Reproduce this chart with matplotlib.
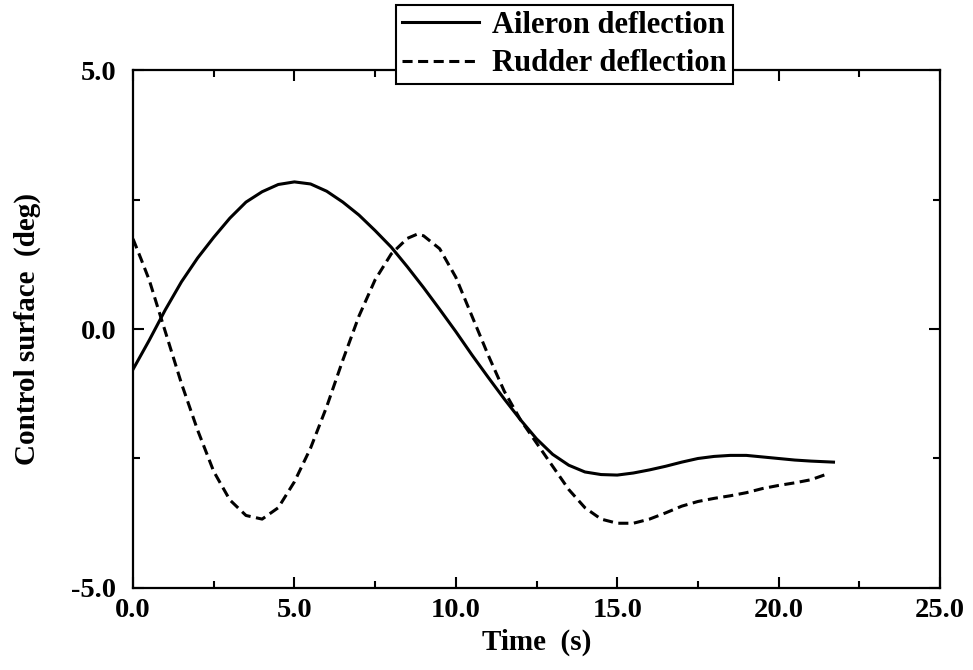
import matplotlib
matplotlib.use("Agg")
import matplotlib.pyplot as plt
from matplotlib.ticker import MultipleLocator, FormatStrFormatter

# values
t_aileron = [0.0, 0.5, 1.0, 1.5, 2.0, 2.5, 3.0, 3.5, 4.0, 4.5, 5.0, 5.5, 6.0, 6.5,
             7.0, 7.5, 8.0, 8.5, 9.0, 9.5, 10.0, 10.5, 11.0, 11.5, 12.0, 12.5,
             13.0, 13.5, 14.0, 14.5, 15.0, 15.5, 16.0, 16.5, 17.0, 17.5, 18.0,
             18.5, 19.0, 19.5, 20.0, 20.5, 21.0, 21.7]
aileron = [-0.78, -0.22, 0.37, 0.91, 1.37, 1.77, 2.14, 2.45, 2.65, 2.79, 2.84,
           2.8, 2.66, 2.45, 2.2, 1.9, 1.58, 1.2, 0.8, 0.38, -0.05, -0.5, -0.93,
           -1.35, -1.75, -2.12, -2.42, -2.63, -2.76, -2.81, -2.82, -2.78, -2.72,
           -2.65, -2.57, -2.5, -2.46, -2.44, -2.44, -2.47, -2.5, -2.53, -2.55, -2.57]

t_rudder = [0.0, 0.25, 0.5, 0.75, 1.0, 1.5, 2.0, 2.5, 3.0, 3.5, 4.0, 4.5, 5.0,
            5.5, 6.0, 6.5, 7.0, 7.5, 8.0, 8.5, 8.8, 9.0, 9.5, 10.0, 10.5, 11.0,
            11.5, 12.0, 12.5, 13.0, 13.5, 14.0, 14.5, 15.0, 15.5, 16.0, 16.5,
            17.0, 17.5, 18.0, 18.5, 19.0, 19.5, 20.0, 20.5, 21.0, 21.5]
rudder = [1.74, 1.35, 0.95, 0.45, -0.05, -1.05, -1.95, -2.75, -3.3, -3.6, -3.67,
          -3.45, -2.95, -2.3, -1.5, -0.6, 0.25, 0.95, 1.45, 1.75, 1.83, 1.8, 1.55,
          1.0, 0.25, -0.5, -1.2, -1.75, -2.2, -2.65, -3.1, -3.45, -3.67, -3.75,
          -3.75, -3.67, -3.55, -3.42, -3.33, -3.27, -3.22, -3.16, -3.08, -3.02,
          -2.97, -2.91, -2.8]

plt.rcParams["font.family"] = "Liberation Serif"
plt.rcParams["font.weight"] = "bold"
plt.rcParams["axes.unicode_minus"] = False

fig = plt.figure(figsize=(9.73, 6.70), dpi=100)
ax = fig.add_axes([0.1367, 0.1224, 0.8294, 0.7731])

ax.plot(t_aileron, aileron, color="black", lw=2.2, label="Aileron deflection")
ax.plot(t_rudder, rudder, color="black", lw=2.2, dashes=(3.3, 1.8),
        label="Rudder deflection")

ax.set_xlim(0, 25)
ax.set_ylim(-5, 5)
ax.xaxis.set_major_locator(MultipleLocator(5))
ax.xaxis.set_minor_locator(MultipleLocator(2.5))
ax.yaxis.set_major_locator(MultipleLocator(5))
ax.yaxis.set_minor_locator(MultipleLocator(2.5))
ax.xaxis.set_major_formatter(FormatStrFormatter("%.1f"))
ax.yaxis.set_major_formatter(FormatStrFormatter("%.1f"))
ax.tick_params(which="both", direction="in", top=True, right=True,
               labelsize=20.5, width=1.5)
ax.tick_params(which="major", length=8)
ax.tick_params(which="minor", length=5)
ax.tick_params(axis="x", which="major", pad=7)
ax.tick_params(axis="y", which="major", pad=12)
for s in ax.spines.values():
    s.set_linewidth(1.6)

ax.set_xlabel("Time  (s)", fontsize=21, fontweight="bold", labelpad=4)
ax.set_ylabel("Control surface  (deg)", fontsize=21, fontweight="bold", labelpad=22)

leg = fig.legend(loc="upper left", bbox_to_anchor=(0.407, 0.9925), fontsize=22,
                 frameon=True, fancybox=False, edgecolor="black", framealpha=1,
                 handlelength=2.5, borderpad=0.2, labelspacing=0.3,
                 handletextpad=0.45, borderaxespad=0)
leg.get_frame().set_linewidth(1.5)
leg.set_zorder(5)

fig.savefig("out.png", dpi=100)
